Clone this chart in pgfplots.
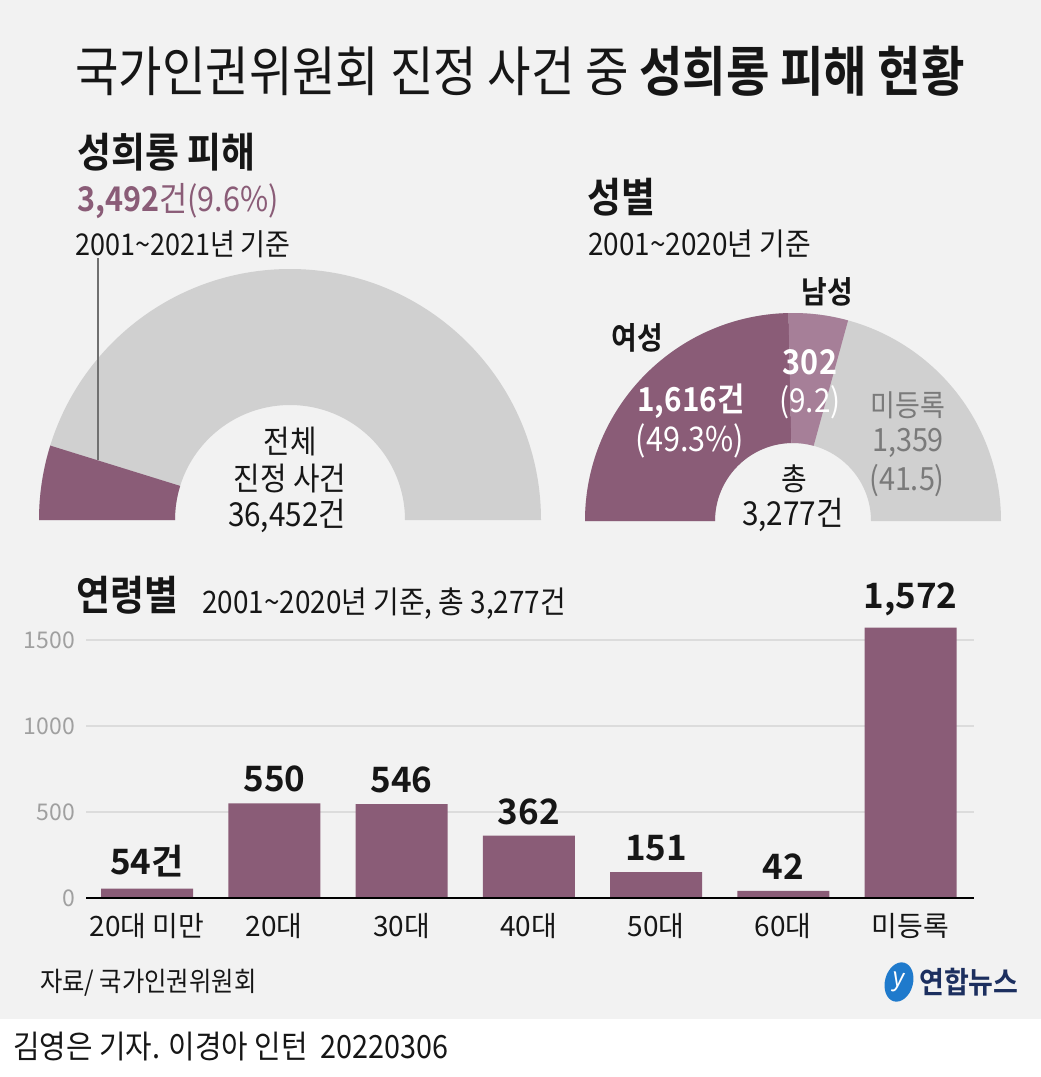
\documentclass[border=0pt]{standalone}
\usepackage{fontspec}
\usepackage{pgfplots}
\usepackage{xfp}
\pgfplotsset{compat=1.18}
\setmainfont{Noto Sans CJK KR}[FakeStretch=0.9, BoldFont={Noto Sans CJK KR Bold}]
\newfontfamily\titlefont{Noto Sans CJK KR}[FakeStretch=0.875, BoldFont={Noto Sans CJK KR Bold}]
\newfontfamily\plainfont{Noto Sans CJK KR}[BoldFont={Noto Sans CJK KR Bold}]
\newfontfamily\logofont{Noto Sans CJK KR Bold}[FakeStretch=0.9]
\newcommand{\fs}[1]{\fontsize{#1}{#1}\selectfont}

\definecolor{bg}{HTML}{F2F2F2}
\definecolor{mag}{HTML}{8A5C77}
\definecolor{magl}{HTML}{A67F98}
\definecolor{dgray}{HTML}{D0D0D0}
\definecolor{gridc}{HTML}{DCDCDC}
\definecolor{tickc}{HTML}{A0A0A0}
\definecolor{lblgray}{HTML}{7A7A7A}
\definecolor{txt}{HTML}{161616}
\definecolor{logob}{HTML}{1F7ACC}
\definecolor{logon}{HTML}{1C2F5F}
\definecolor{leader}{HTML}{707070}

% data
\def\totalcases{36452}
\def\sexh{3492}
\def\female{1616}
\def\male{302}
\def\unreg{1359}
\def\sextotal{3277}

\edef\angA{\fpeval{round(180-180*\sexh/\totalcases,4)}}
\edef\angF{\fpeval{round(180-180*\female/\sextotal,4)}}
\edef\angM{\fpeval{round(180-180*(\female+\male)/\sextotal,4)}}

\pgfplotstableread{
x y label
0 54 54건
1 550 550
2 546 546
3 362 362
4 151 151
5 42 42
6 1572 1,572
}\agedata

\begin{document}
\begin{tikzpicture}[x=1pt,y=1pt]
\fill[bg] (0,0) rectangle (1041,-1019);
\fill[white] (0,-1019) rectangle (1041,-1077);
\coordinate (leftorg) at (30,-520);
\coordinate (rightorg) at (578,-521);
\coordinate (barorg) at (86,-898);

% ---- title
\node[anchor=center, inner sep=0pt, text=txt] at (520,-71)
  {\titlefont\fs{54}국가인권위원회 진정 사건 중 \textbf{성희롱 피해 현황}};

% ---- left donut
\begin{axis}[hide axis, scale only axis, x=1pt, y=1pt,
  xmin=-260, xmax=260, ymin=0, ymax=260,
  anchor=south west, at={(leftorg)}, clip=false]
\fill[dgray] (axis cs:251,0) arc[start angle=0,end angle=180,radius=251pt]
  -- (axis cs:-115,0) arc[start angle=180,end angle=0,radius=115pt] -- cycle;
\fill[mag] (axis cs:-251,0) arc[start angle=180,end angle=\angA,radius=251pt]
  -- (axis cs:{115*cos(\angA)},{115*sin(\angA)}) arc[start angle=\angA,end angle=180,radius=115pt] -- cycle;
\draw[leader, line width=1.3pt] (axis cs:-192,60) -- (axis cs:-192,262);
\end{axis}

\node[anchor=west, inner sep=0pt, text=txt] at (77,-152) {\fs{41}\bfseries 성희롱 피해};
\node[anchor=west, inner sep=0pt, text=mag] at (77,-201) {\fs{34}\textbf{3,492}건(9.6\%)};
\node[anchor=west, inner sep=0pt, text=txt] at (75,-244) {\fs{30}2001\textasciitilde2021년 기준};

\node[inner sep=0pt, text=txt] at (290,-442) {\fs{32}전체};
\node[inner sep=0pt, text=txt] at (290,-479) {\fs{32}진정 사건};
\node[inner sep=0pt, text=txt] at (287,-516) {\fs{33}36,452건};

% ---- right donut
\begin{axis}[hide axis, scale only axis, x=1pt, y=1pt,
  xmin=-215, xmax=215, ymin=0, ymax=215,
  anchor=south west, at={(rightorg)}, clip=false]
\fill[dgray] (axis cs:208,0) arc[start angle=0,end angle=180,radius=208pt]
  -- (axis cs:-78,0) arc[start angle=180,end angle=0,radius=78pt] -- cycle;
\fill[mag] (axis cs:-208,0) arc[start angle=180,end angle=\angF,radius=208pt]
  -- (axis cs:{78*cos(\angF)},{78*sin(\angF)}) arc[start angle=\angF,end angle=180,radius=78pt] -- cycle;
\fill[magl] (axis cs:{208*cos(\angF)},{208*sin(\angF)}) arc[start angle=\angF,end angle=\angM,radius=208pt]
  -- (axis cs:{78*cos(\angM)},{78*sin(\angM)}) arc[start angle=\angM,end angle=\angF,radius=78pt] -- cycle;
\end{axis}

\node[anchor=west, inner sep=0pt, text=txt] at (587,-197) {\fs{41}\bfseries 성별};
\node[anchor=west, inner sep=0pt, text=txt] at (588,-244) {\fs{31}2001\textasciitilde2020년 기준};

\node[inner sep=0pt, text=txt] at (637,-338) {\fs{31}\bfseries 여성};
\node[inner sep=0pt, text=txt] at (827,-292) {\fs{31}\bfseries 남성};
\node[inner sep=0pt, text=white] at (691,-401) {\fs{33}\bfseries 1,616건};
\node[inner sep=0pt, text=white] at (690,-441) {\fs{34}(49.3\%)};
\node[inner sep=0pt, text=white] at (810,-362) {\fs{34}\bfseries 302};
\node[inner sep=0pt, text=white] at (810,-402) {\fs{33}(9.2)};
\node[inner sep=0pt, text=lblgray] at (908,-405) {\fs{30}미등록};
\node[inner sep=0pt, text=lblgray] at (908,-443) {\fs{32}1,359};
\node[inner sep=0pt, text=lblgray] at (907,-481) {\fs{32}(41.5)};
\node[inner sep=0pt, text=txt] at (794,-479) {\fs{31}총};
\node[inner sep=0pt, text=txt] at (793,-515) {\fs{33}3,277건};

% ---- bar chart
\node[anchor=west, inner sep=0pt, text=txt] at (76,-595) {\fs{41}\bfseries 연령별};
\node[anchor=west, inner sep=0pt, text=txt] at (202,-604) {\fs{31}2001\textasciitilde2020년 기준, 총 3,277건};

\begin{axis}[scale only axis, x=127.25pt, y=0.172pt,
  xmin=-0.48, xmax=6.5, ymin=0, ymax=1620,
  anchor=south west, at={(barorg)},
  axis line style={draw=none},
  major tick length=0pt,
  ymajorgrids, grid style={draw=gridc, line width=1.5pt},
  ytick={0,500,1000,1500},
  xtick={0,1,2,3,4,5,6},
  xticklabels={20대 미만,20대,30대,40대,50대,60대,미등록},
  /pgf/number format/assume math mode=true,
  /pgf/number format/1000 sep={},
  yticklabel style={font=\plainfont\fs{23}, text=tickc, inner sep=0pt, xshift=-11pt},
  xticklabel style={font=\plainfont\fs{28}, text=txt, inner sep=0pt, yshift=-15pt},
  clip=false]
\addplot[ybar, bar width=92pt, fill=mag, draw=none,
  point meta=explicit symbolic, nodes near coords,
  every node near coord/.append style={font=\plainfont\fs{35}\bfseries, text=txt, anchor=south, inner sep=0pt, yshift=11pt}]
  table[x=x, y=y, meta=label] {\agedata};
\draw[black, line width=2pt] (axis cs:-0.48,0) -- (axis cs:6.5,0);
\end{axis}

% ---- footer
\node[anchor=west, inner sep=0pt, text=txt] at (40,-983) {\fs{27}자료/ 국가인권위원회};
\fill[logob, rotate around={-15:(899,-982)}] (899,-982) ellipse[x radius=14, y radius=20];
\node[text=white, inner sep=0pt, rotate=-10] at (898,-983) {\fs{26}\itshape y};
\node[anchor=west, inner sep=0pt, text=logon] at (919,-982) {\logofont\fs{30}연합뉴스};
\node[anchor=west, inner sep=0pt, text=txt] at (13,-1047) {\fs{32}김영은 기자. 이경아 인턴\ \ 20220306};
\end{tikzpicture}
\end{document}
